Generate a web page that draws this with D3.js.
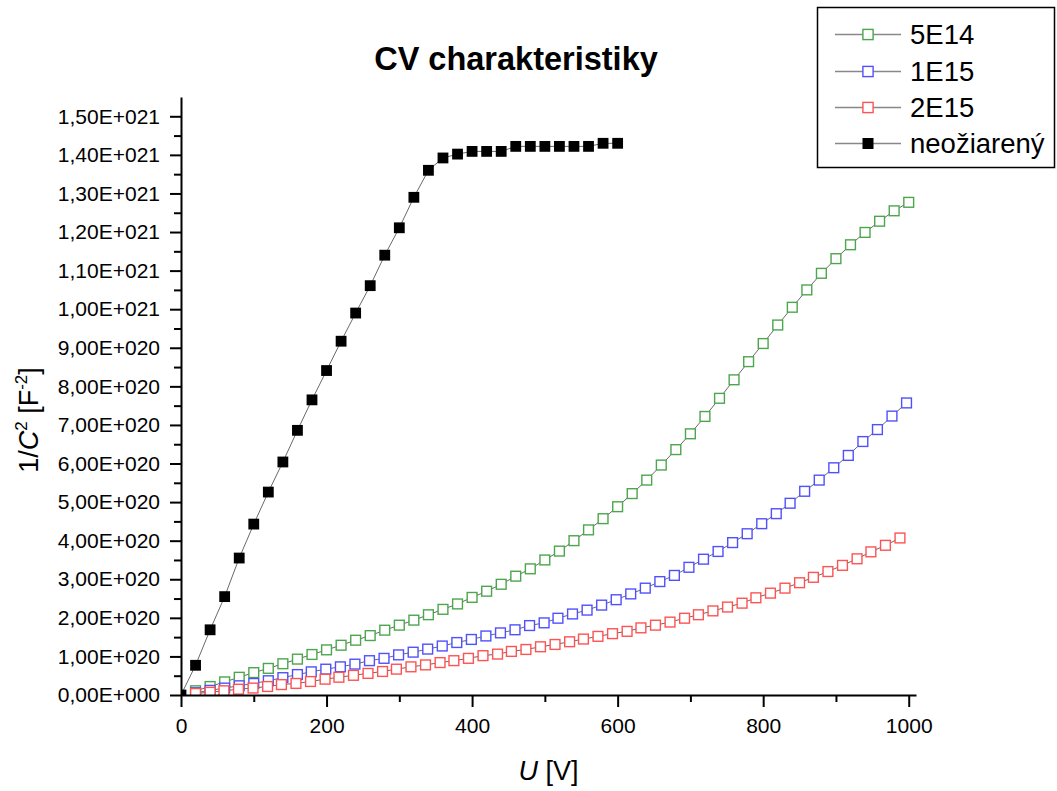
<!DOCTYPE html>
<html>
<head>
<meta charset="utf-8">
<script src="https://cdn.jsdelivr.net/npm/d3@7"></script>
<style>
  body { margin: 0; background: #fff; }
  svg { display: block; font-family: "Liberation Sans", Arial, sans-serif; }
</style>
</head>
<body>
<svg id="chart"></svg>
<script>
// voltages U [V] for each series
const u5E14 = [20,40,60,80,100,120,140,160,180,200,220,240,260,280,300,320,340,360,380,400,
  420,440,460,480,500,520,540,560,580,600,620,640,660,680,700,720,740,760,780,800,
  820,840,860,880,900,920,940,960,980,1000];
const u1E15 = [20,40,60,80,100,120,140,160,179,199,219,239,259,279,299,319,339,359,379,399,
  419,439,459,479,499,518,538,558,578,598,618,638,658,678,698,718,738,758,778,798,
  818,837,857,877,897,917,937,957,977,997];
const u2E15 = [20,40,59,79,99,119,138,158,178,198,217,237,257,277,296,316,336,356,375,395,
  415,435,454,474,494,514,534,553,573,593,613,632,652,672,692,711,731,751,771,790,
  810,830,850,869,889,909,929,948,968,988];
const uNeo = [0,20,40,60,80,100,120,140,160,180,200,220,240,260,280,300,320,340,360,380,
  400,420,440,460,480,500,520,540,560,580,600];

// 1/C^2 in units of 1E+020 F^-2
const v5E14 = [0.11,0.22,0.34,0.46,0.58,0.69,0.81,0.93,1.05,1.17,1.29,1.42,1.54,1.68,1.81,1.94,2.08,2.22,2.36,2.53,
  2.69,2.87,3.08,3.27,3.50,3.73,4.00,4.28,4.57,4.88,5.22,5.57,5.96,6.36,6.77,7.22,7.69,8.17,8.64,9.11,
  9.59,10.05,10.50,10.93,11.31,11.67,11.99,12.28,12.55,12.77];
const v1E15 = [0.06,0.12,0.18,0.24,0.30,0.37,0.45,0.53,0.60,0.67,0.73,0.80,0.89,0.95,1.04,1.11,1.19,1.27,1.36,1.44,
  1.53,1.61,1.69,1.80,1.87,1.99,2.10,2.20,2.33,2.47,2.62,2.77,2.94,3.10,3.31,3.52,3.72,3.95,4.18,4.44,
  4.70,4.97,5.28,5.57,5.89,6.21,6.57,6.88,7.23,7.57];
const v2E15 = [0.04,0.07,0.11,0.15,0.18,0.22,0.27,0.30,0.35,0.41,0.46,0.51,0.56,0.61,0.67,0.73,0.78,0.84,0.89,0.95,
  1.02,1.06,1.13,1.18,1.25,1.31,1.38,1.45,1.52,1.59,1.65,1.74,1.81,1.89,1.99,2.08,2.18,2.28,2.38,2.52,
  2.64,2.77,2.91,3.05,3.20,3.36,3.53,3.71,3.88,4.07];
const vNeo = [0,0.77,1.69,2.55,3.55,4.43,5.26,6.04,6.86,7.65,8.41,9.17,9.90,10.61,11.40,12.11,12.90,13.60,13.92,14.02,
  14.09,14.09,14.09,14.22,14.22,14.22,14.22,14.22,14.22,14.30,14.30];

const seriesNames = ["5E14", "1E15", "2E15", "neožiarený"];

const xTicks = [0,200,400,600,800,1000];
const xMinorTicks = [100,300,500,700,900];
const yTicks = [0,1,2,3,4,5,6,7,8,9,10,11,12,13,14,15];
const yMinorTicks = [0.5,1.5,2.5,3.5,4.5,5.5,6.5,7.5,8.5,9.5,10.5,11.5,12.5,13.5,14.5];
const yTickLabels = ["0,00E+000","1,00E+020","2,00E+020","3,00E+020","4,00E+020","5,00E+020",
  "6,00E+020","7,00E+020","8,00E+020","9,00E+020","1,00E+021","1,10E+021","1,20E+021",
  "1,30E+021","1,40E+021","1,50E+021"];

const width = 1057, height = 791;
const plot = {left: 181, right: 916, top: 97, bottom: 695};

const svg = d3.select("#chart")
  .attr("width", width)
  .attr("height", height);

const x = d3.scaleLinear().domain([0, 1010]).range([plot.left, plot.right]);
const y = d3.scaleLinear().domain([0, 15.5]).range([plot.bottom, plot.top]);

const series = [
  {name: seriesNames[0], u: u5E14, v: v5E14, color: "#4ca64c", filled: false},
  {name: seriesNames[1], u: u1E15, v: v1E15, color: "#5050ff", filled: false},
  {name: seriesNames[2], u: u2E15, v: v2E15, color: "#ff5252", filled: false},
  {name: seriesNames[3], u: uNeo, v: vNeo, color: "#000", filled: true}
];

svg.append("defs").append("clipPath").attr("id", "plotClip")
  .append("rect")
  .attr("x", plot.left).attr("y", plot.top)
  .attr("width", plot.right - plot.left).attr("height", plot.bottom - plot.top);

const dataLayer = svg.append("g").attr("clip-path", "url(#plotClip)");

const line = d3.line().x(d => x(d[0])).y(d => y(d[1]));

function drawMarker(sel, s, size) {
  if (s.filled) {
    sel.attr("width", size).attr("height", size)
      .attr("fill", "#000").attr("stroke", "none");
  } else {
    sel.attr("width", size - 1.4).attr("height", size - 1.4)
      .attr("fill", "#fff").attr("stroke", s.color).attr("stroke-width", 1.4);
  }
}

series.forEach(s => {
  const pts = s.u.map((u, i) => [u, s.v[i]]);
  dataLayer.append("path")
    .datum(pts)
    .attr("d", line)
    .attr("fill", "none")
    .attr("stroke", "#6a6a6a")
    .attr("stroke-width", 1);

  const size = s.filled ? 10.8 : 11.2;
  const half = (s.filled ? size : size - 1.4) / 2;
  dataLayer.append("g").selectAll("rect")
    .data(pts)
    .enter()
    .append("rect")
    .attr("x", d => x(d[0]) - half)
    .attr("y", d => y(d[1]) - half)
    .call(sel => drawMarker(sel, s, size));
});

// axes
function styleAxis(g) {
  g.attr("font-family", "'Liberation Sans', Arial, sans-serif")
    .attr("font-size", 21);
  g.select(".domain").attr("stroke", "#000").attr("stroke-width", 2);
  g.selectAll(".tick line").attr("stroke", "#000").attr("stroke-width", 2);
  g.selectAll(".tick text").attr("fill", "#000");
}

svg.append("g")
  .attr("transform", `translate(0,${plot.bottom})`)
  .call(d3.axisBottom(x).tickValues(xMinorTicks).tickSize(7).tickFormat(""))
  .call(g => { g.select(".domain").remove(); g.selectAll(".tick line").attr("stroke", "#000").attr("stroke-width", 2); });

svg.append("g")
  .attr("transform", `translate(${plot.left},0)`)
  .call(d3.axisLeft(y).tickValues(yMinorTicks).tickSize(7).tickFormat(""))
  .call(g => { g.select(".domain").remove(); g.selectAll(".tick line").attr("stroke", "#000").attr("stroke-width", 2); });

svg.append("g")
  .attr("transform", `translate(0,${plot.bottom})`)
  .call(d3.axisBottom(x).tickValues(xTicks).tickSize(12).tickSizeOuter(0).tickPadding(11).tickFormat(d3.format("d")))
  .call(styleAxis);

svg.append("g")
  .attr("transform", `translate(${plot.left},0)`)
  .call(d3.axisLeft(y).tickValues(yTicks).tickSize(11).tickSizeOuter(0).tickPadding(10)
    .tickFormat((d, i) => yTickLabels[i]))
  .call(styleAxis);

// title
svg.append("text")
  .attr("x", 516)
  .attr("y", 70)
  .attr("text-anchor", "middle")
  .attr("font-size", 32.5)
  .attr("font-weight", "bold")
  .text("CV charakteristiky");

// x axis label
const xLab = svg.append("text")
  .attr("x", (plot.left + plot.right) / 2)
  .attr("y", 780)
  .attr("text-anchor", "middle")
  .attr("font-size", 27);
xLab.append("tspan").attr("font-style", "italic").text("U");
xLab.append("tspan").text(" [V]");

// y axis label
const yLab = svg.append("text")
  .attr("transform", "translate(38,420) rotate(-90)")
  .attr("text-anchor", "middle")
  .attr("font-size", 27);
yLab.append("tspan").text("1/");
yLab.append("tspan").attr("font-style", "italic").text("C");
yLab.append("tspan").attr("font-size", 17).attr("dy", -11).text("2");
yLab.append("tspan").attr("dy", 11).text(" [F");
yLab.append("tspan").attr("font-size", 17).attr("dy", -11).text("-2");
yLab.append("tspan").attr("dy", 11).text("]");

// legend
const legend = svg.append("g");
legend.append("rect")
  .attr("x", 817.5).attr("y", 7.5)
  .attr("width", 237).attr("height", 160)
  .attr("fill", "#fff").attr("stroke", "#000").attr("stroke-width", 1.5);

const rowY = [34, 71, 107, 143];
series.forEach((s, i) => {
  const g = legend.append("g").attr("transform", `translate(0,${rowY[i]})`);
  g.append("line")
    .attr("x1", 835).attr("x2", 901)
    .attr("y1", 0.5).attr("y2", 0.5)
    .attr("stroke", "#888").attr("stroke-width", 1.3);
  const size = s.filled ? 11 : 11.6;
  const half = (s.filled ? size : size - 1.4) / 2;
  g.append("rect")
    .attr("x", 868 - half).attr("y", 0.5 - half)
    .call(sel => drawMarker(sel, s, size));
  g.append("text")
    .attr("x", 910).attr("y", 10)
    .attr("font-size", 27.5)
    .text(s.name);
});
</script>
</body>
</html>
